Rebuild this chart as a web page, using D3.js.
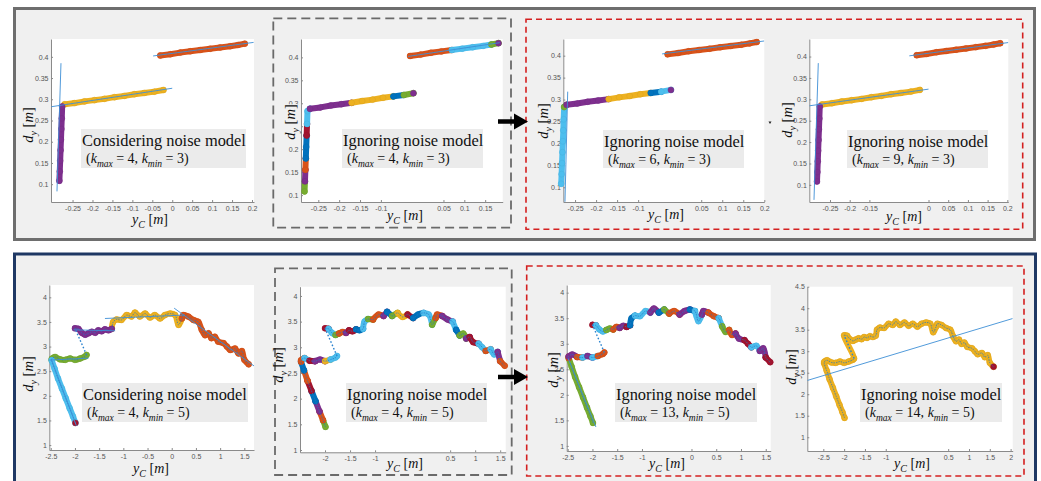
<!DOCTYPE html>
<html>
<head>
<meta charset="utf-8">
<script src="https://cdn.jsdelivr.net/npm/d3@7"></script>
<style>
  body { margin: 0; background: #fff; }
  svg { display: block; font-family: 'Liberation Sans', Arial, sans-serif; }
</style>
</head>
<body>
<svg id="chart" width="1041" height="481"></svg>
<script>
// ---- data ----
// top experiment: [y_c, d_y] along the track
const topTrack = [
  [-0.283, 0.108], [-0.282, 0.13], [-0.281, 0.155], [-0.280, 0.18],
  [-0.279, 0.205], [-0.278, 0.23], [-0.277, 0.255], [-0.276, 0.283],
  [-0.27, 0.288], [-0.245, 0.291], [-0.22, 0.295], [-0.195, 0.298],
  [-0.17, 0.301], [-0.145, 0.305], [-0.12, 0.308], [-0.095, 0.312],
  [-0.07, 0.315], [-0.045, 0.318], [-0.022, 0.322],
  [-0.03, 0.403], [-0.005, 0.406], [0.02, 0.41], [0.045, 0.413],
  [0.07, 0.416], [0.095, 0.419], [0.12, 0.422], [0.145, 0.425],
  [0.165, 0.428], [0.182, 0.431]
];
const topRuns = [[0, 18], [19, 28]];

// bottom experiment
const bottomTrack = [
  [-1.99, 1.45], [-2.04, 1.58], [-2.11, 1.75], [-2.19, 1.95], [-2.27, 2.15], [-2.35, 2.35], [-2.42, 2.55], [-2.48, 2.72],
  [-2.48, 2.75], [-2.41, 2.79], [-2.31, 2.74], [-2.2, 2.73], [-2.1, 2.76], [-2.0, 2.73], [-1.89, 2.76], [-1.79, 2.8], [-1.76, 2.83],
  [-2.0, 3.37], [-1.93, 3.36], [-1.86, 3.28], [-1.79, 3.24], [-1.72, 3.27], [-1.65, 3.3], [-1.58, 3.28], [-1.52, 3.33],
  [-1.45, 3.31], [-1.38, 3.35], [-1.31, 3.33], [-1.24, 3.36],
  [-1.21, 3.5], [-1.14, 3.55], [-1.04, 3.54], [-0.93, 3.64], [-0.83, 3.61], [-0.76, 3.69], [-0.66, 3.61], [-0.55, 3.67],
  [-0.45, 3.59], [-0.35, 3.64], [-0.24, 3.57], [-0.14, 3.64], [-0.03, 3.67], [0.07, 3.64], [0.14, 3.44], [0.21, 3.57],
  [0.24, 3.64], [0.34, 3.61], [0.45, 3.54], [0.55, 3.5], [0.62, 3.34], [0.69, 3.23], [0.76, 3.27], [0.82, 3.17],
  [0.89, 3.2], [0.96, 3.1], [1.07, 3.07], [1.14, 3.0], [1.21, 2.93], [1.31, 2.96], [1.38, 2.86], [1.45, 2.91],
  [1.5, 2.73], [1.59, 2.64]
];
const bottomRuns = [[0, 16], [17, 62]];
const bottomJump = [16, 17];

// colour segments [from, to, colour] per panel, in drawing order
const segTop1 = [[8, 18, 'yellow'], [19, 28, 'orange'], [0, 7, 'purple']];
const segTop2 = [[0, 1, 'green'], [1, 2, 'purple'], [2, 3, 'orange'], [3, 5, 'blue'], [5, 6, 'darkred'], [6, 8, 'cyan'],
  [8, 12, 'purple'], [12, 16, 'yellow'], [16, 17, 'blue'], [17, 18, 'green'], [18, 18, 'purple'],
  [19, 23, 'orange'], [23, 27, 'cyan'], [27, 28, 'green'], [28, 28, 'purple']];
const segTop3 = [[0, 7, 'cyan'], [7, 8, 'green'], [8, 12, 'purple'], [12, 16, 'yellow'], [16, 17, 'blue'],
  [17, 18, 'cyan'], [18, 18, 'purple'], [19, 28, 'orange']];
const segTop4 = [[8, 18, 'yellow'], [19, 28, 'orange'], [0, 7, 'purple']];

const segBot1 = [[28, 44, 'yellow'], [44, 62, 'orange'], [17, 28, 'purple'], [7, 16, 'green'], [0, 7, 'cyan'], [0, 0, 'darkred']];
const segBot2 = [[0, 1, 'green'], [1, 2, 'orange'], [2, 3, 'purple'], [3, 4, 'blue'], [4, 5, 'darkred'], [5, 6, 'orange'],
  [6, 7, 'blue'], [7, 9, 'orange'], [9, 10, 'cyan'], [10, 11, 'darkred'], [11, 13, 'purple'], [13, 14, 'yellow'], [14, 16, 'cyan'],
  [17, 18, 'darkred'], [18, 20, 'cyan'], [20, 21, 'green'], [21, 23, 'orange'], [23, 24, 'purple'], [24, 26, 'darkred'],
  [26, 28, 'blue'], [28, 30, 'cyan'], [30, 31, 'green'], [31, 33, 'orange'], [33, 34, 'purple'], [34, 35, 'blue'],
  [35, 36, 'green'], [36, 38, 'yellow'], [38, 39, 'darkred'], [39, 41, 'blue'], [41, 43, 'cyan'], [43, 44, 'green'],
  [44, 46, 'orange'], [46, 48, 'purple'], [48, 49, 'cyan'], [49, 50, 'blue'], [50, 52, 'green'], [52, 53, 'purple'],
  [53, 55, 'darkred'], [55, 57, 'cyan'], [57, 58, 'orange'], [58, 60, 'cyan'], [60, 61, 'purple'], [61, 62, 'orange']];
const segBot3 = [[0, 7, 'green'], [7, 8, 'orange'], [8, 10, 'purple'], [10, 11, 'orange'], [11, 12, 'cyan'], [12, 13, 'purple'],
  [13, 14, 'cyan'], [14, 16, 'orange'], [17, 18, 'darkred'], [18, 21, 'cyan'], [21, 23, 'green'], [23, 25, 'orange'],
  [25, 27, 'purple'], [27, 28, 'darkred'], [28, 30, 'blue'], [30, 33, 'cyan'], [33, 35, 'purple'], [35, 36, 'blue'],
  [36, 37, 'green'], [37, 39, 'orange'], [39, 41, 'purple'], [41, 42, 'blue'], [42, 44, 'cyan'], [44, 46, 'purple'],
  [46, 48, 'orange'], [48, 49, 'cyan'], [49, 51, 'green'], [51, 53, 'orange'], [53, 55, 'purple'], [55, 57, 'darkred'],
  [57, 59, 'cyan'], [59, 61, 'purple'], [61, 62, 'darkred']];
const segBot4 = [[0, 62, 'yellow'], [62, 62, 'darkred']];

// fitted lines [x1, y1, x2, y2]
const fitTop1 = [[-0.289, 0.083, -0.279, 0.385], [-0.303, 0.2825, 0.0, 0.326], [-0.048, 0.402, 0.204, 0.434]];
const fitTop2 = [[-0.035, 0.402, 0.185, 0.432]];
const fitTop3 = [[-0.274, 0.067, -0.2675, 0.318], [-0.043, 0.404, 0.2, 0.4335]];
const fitTop4 = [[-0.2906, 0.065, -0.2797, 0.3846], [-0.3025, 0.2848, 0.0, 0.3238], [-0.0487, 0.4016, 0.2025, 0.4327]];
const fitBot1 = [[-2.49, 2.74, -1.97, 1.39], [-2.53, 2.725, -1.72, 2.765], [-2.03, 3.34, -1.17, 3.32],
  [-1.38, 3.57, 0.26, 3.64], [0.05, 3.78, 1.71, 2.6]];
const fitBot2 = [];
const fitBot3 = [[-2.49, 2.71, -1.93, 1.37]];
const fitBot4 = [[-2.885, 2.32, 2.05, 3.76]];

// tick labels (the ones hidden behind the axis label in the figure are left out)
const topXTicks = [-0.25, -0.2, -0.15, -0.1, -0.05, 0, 0.05, 0.1, 0.15, 0.2];
const topXTicks2 = [-0.25, -0.2, -0.15, -0.1, 0.05, 0.1, 0.15];
const topXTicks3 = [-0.25, -0.2, -0.15, -0.1, 0.05, 0.1, 0.15, 0.2];
const topXTicks4 = [-0.25, -0.2, -0.15, 0, 0.05, 0.1, 0.15, 0.2];
const topYTicks = [0.1, 0.15, 0.2, 0.25, 0.3, 0.35, 0.4];
const botXTicks = [-2.5, -2, -1.5, -1, -0.5, 0, 0.5, 1, 1.5];
const botXTicks2 = [-2, -1.5, -1, 0.5, 1, 1.5];
const botXTicks3 = [-2.5, -2, -1.5, -1, 0, 0.5, 1, 1.5];
const botXTicks4 = [-2.5, -2, -1.5, -1, 0.5, 1, 1.5, 2];
const botYTicks = [1, 1.5, 2, 2.5, 3, 3.5, 4];
const botYTicks4 = [1, 1.5, 2, 2.5, 3, 3.5, 4, 4.5];

const notes = ['Considering noise model', 'Ignoring noise model', 'Ignoring noise model', 'Ignoring noise model',
  'Considering noise model', 'Ignoring noise model', 'Ignoring noise model', 'Ignoring noise model'];
const kMax = [4, 4, 6, 9, 4, 4, 13, 14];
const kMin = [3, 3, 3, 3, 5, 5, 5, 5];

const palette = {
  blue: '#0072BD', orange: '#D95319', yellow: '#EDB120', purple: '#7E2F8E',
  green: '#77AC30', cyan: '#4DBEEE', darkred: '#A2142F'
};

// ---- layout ----
const panels = [
  { track: topTrack, runs: topRuns, segs: segTop1, fits: fitTop1, xt: topXTicks, yt: topYTicks,
    plot: [51, 39, 254, 202], xdom: [-0.304, 0.205], ydom: [0.058, 0.442],
    box: [81, 129, 246, 168], ylab: [28, 125], xlab: [150, 224] },
  { track: topTrack, runs: topRuns, segs: segTop2, fits: fitTop2, xt: topXTicks2, yt: topYTicks,
    plot: [301, 39, 502.7, 202], xdom: [-0.2915, 0.192], ydom: [0.085, 0.44],
    box: [342, 129, 483, 168], ylab: [290, 122], xlab: [405, 220] },
  { track: topTrack, runs: topRuns, segs: segTop3, fits: fitTop3, xt: topXTicks3, yt: topYTicks,
    plot: [563.3, 39, 764.3, 202], xdom: [-0.278, 0.2], ydom: [0.0665, 0.438],
    box: [603, 130, 744, 168], ylab: [543, 121], xlab: [666, 219] },
  { track: topTrack, runs: topRuns, segs: segTop4, fits: fitTop4, xt: topXTicks4, yt: topYTicks,
    plot: [809.3, 39, 1008.3, 202], xdom: [-0.3025, 0.2025], ydom: [0.06, 0.441],
    box: [847, 130, 988, 168], ylab: [787, 120], xlab: [904, 221] },
  { track: bottomTrack, runs: bottomRuns, segs: segBot1, fits: fitBot1, xt: botXTicks, yt: botYTicks,
    plot: [49.3, 285, 254, 450], xdom: [-2.53, 1.7], ydom: [0.9, 4.25],
    box: [82, 383, 248, 422], ylab: [28, 374], xlab: [151, 473], curved: true },
  { track: bottomTrack, runs: bottomRuns, segs: segBot2, fits: fitBot2, xt: botXTicks2, yt: botYTicks,
    plot: [300, 286.7, 505.7, 452.3], xdom: [-2.5, 1.61], ydom: [0.955, 4.18],
    box: [346, 383, 487, 422], ylab: [278, 365], xlab: [405, 468], curved: true },
  { track: bottomTrack, runs: bottomRuns, segs: segBot3, fits: fitBot3, xt: botXTicks3, yt: botYTicks,
    plot: [566.7, 285, 770.7, 451], xdom: [-2.52, 1.6], ydom: [0.9, 4.15],
    box: [615, 383, 757, 422], ylab: [553, 370], xlab: [667, 468], curved: true },
  { track: bottomTrack, runs: bottomRuns, segs: segBot4, fits: fitBot4, xt: botXTicks4, yt: botYTicks4,
    plot: [807.3, 286.7, 1012.7, 451], xdom: [-2.885, 2.05], ydom: [0.68, 4.5],
    box: [860, 383, 1002, 422], ylab: [791, 367], xlab: [912, 468], curved: true }
];

const svg = d3.select('#chart');
const serif = '"Liberation Serif", "Times New Roman", serif';
const panelBg = '#f0f0f0';

// outer frames
svg.append('rect').attr('x', 14.5).attr('y', 8.5).attr('width', 1020).attr('height', 231)
  .attr('fill', panelBg).attr('stroke', '#6e6e6e').attr('stroke-width', 3);
svg.append('rect').attr('x', 14.5).attr('y', 254).attr('width', 1021).attr('height', 245)
  .attr('fill', panelBg).attr('stroke', '#1f3864').attr('stroke-width', 3);

// dashed group frames
const dashBoxes = [
  [273.3, 18.3, 511, 227.7, '#6a6a6a', '9,5', 1.8],
  [526, 19.3, 1022.7, 229.3, '#d42020', '6,4', 1.6],
  [275, 268.3, 511.7, 475, '#6a6a6a', '9,5', 1.8],
  [526.7, 266, 1024, 476, '#d42020', '6,4', 1.6]
];
dashBoxes.forEach(([x0, y0, x1, y1, c, dash, w]) => {
  svg.append('rect').attr('x', x0).attr('y', y0).attr('width', x1 - x0).attr('height', y1 - y0)
    .attr('fill', 'none').attr('stroke', c).attr('stroke-width', w).attr('stroke-dasharray', dash);
});

const fmt = (d) => String(Math.round(d * 100) / 100);

// text built from parts [text, italic, subscript]
const richText = (g, parts, size, subSize) => {
  const t = g.append('text').style('font-family', serif).style('font-size', size + 'px').attr('fill', '#111');
  let shifted = false;
  parts.forEach(([s, italic, sub]) => {
    const ts = t.append('tspan').text(s);
    if (italic) ts.style('font-style', 'italic');
    if (sub) ts.style('font-size', subSize + 'px');
    if (sub && !shifted) { ts.attr('dy', size * 0.28); shifted = true; }
    else if (!sub && shifted) { ts.attr('dy', -size * 0.28); shifted = false; }
  });
  return t;
};

panels.forEach((p, i) => {
  const [L, T, R, B] = p.plot;
  const x = d3.scaleLinear().domain(p.xdom).range([L, R]);
  const y = d3.scaleLinear().domain(p.ydom).range([B, T]);
  const g = svg.append('g');

  g.append('rect').attr('x', L).attr('y', T).attr('width', R - L).attr('height', B - T).attr('fill', '#fff');

  const clipId = 'clip' + i;
  g.append('clipPath').attr('id', clipId).append('rect')
    .attr('x', L).attr('y', T).attr('width', R - L).attr('height', B - T);

  // axes
  const inX = p.xt.filter((v) => v >= p.xdom[0] - 1e-9 && v <= p.xdom[1] + 1e-9);
  const inY = p.yt.filter((v) => v >= p.ydom[0] && v <= p.ydom[1]);
  const xAxis = g.append('g').attr('transform', `translate(0,${B})`)
    .call(d3.axisBottom(x).tickValues(inX).tickFormat(fmt).tickSizeInner(-2).tickSizeOuter(0).tickPadding(4));
  const yAxis = g.append('g').attr('transform', `translate(${L},0)`)
    .call(d3.axisLeft(y).tickValues(inY).tickFormat(fmt).tickSizeInner(-2).tickSizeOuter(0).tickPadding(2.5));
  [xAxis, yAxis].forEach((a) => {
    a.select('.domain').attr('stroke', '#8a8a8a');
    a.selectAll('.tick line').attr('stroke', '#8a8a8a');
    a.selectAll('.tick text').attr('fill', '#555').style('font-size', '7px')
      .style('font-family', "'Liberation Sans', Arial, sans-serif");
  });

  const line = d3.line().x((d) => x(d[0])).y((d) => y(d[1]))
    .curve(p.curved ? d3.curveCatmullRom : d3.curveLinear);

  // coloured marker bands
  p.segs.forEach(([a, b, c]) => {
    const col = palette[c];
    const pts = p.track.slice(a, b + 1);
    if (pts.length > 1) {
      g.append('path').attr('d', line(pts)).attr('fill', 'none').attr('stroke', col)
        .attr('stroke-width', 6).attr('stroke-linecap', 'round').attr('stroke-linejoin', 'round');
    }
    g.selectAll(null).data(pts).enter().append('circle')
      .attr('cx', (d) => x(d[0])).attr('cy', (d) => y(d[1])).attr('r', 3)
      .attr('fill', col).attr('stroke', d3.color(col).darker(0.3)).attr('stroke-width', 0.5)
      .attr('stroke-opacity', 0.7);
  });

  // thin trajectory line and dotted jump for the bottom experiment
  if (p.curved) {
    p.runs.forEach(([a, b]) => {
      g.append('path').attr('d', line(p.track.slice(a, b + 1))).attr('fill', 'none')
        .attr('stroke', '#1f77c4').attr('stroke-width', 0.7).attr('stroke-dasharray', '1.5,1');
    });
    const [j0, j1] = bottomJump;
    g.append('line')
      .attr('x1', x(p.track[j0][0])).attr('y1', y(p.track[j0][1]))
      .attr('x2', x(p.track[j1][0])).attr('y2', y(p.track[j1][1]))
      .attr('stroke', '#2b83cf').attr('stroke-width', 1.4).attr('stroke-dasharray', '1.6,2');
  }

  // fitted lines
  g.append('g').attr('clip-path', `url(#${clipId})`).selectAll('line').data(p.fits).enter().append('line')
    .attr('x1', (d) => x(d[0])).attr('y1', (d) => y(d[1]))
    .attr('x2', (d) => x(d[2])).attr('y2', (d) => y(d[3]))
    .attr('stroke', '#3d8fd6').attr('stroke-width', 0.9);

  // note box
  const [bx0, by0, bx1, by1] = p.box;
  g.append('rect').attr('x', bx0).attr('y', by0).attr('width', bx1 - bx0).attr('height', by1 - by0).attr('fill', '#ebebeb');
  g.append('text').attr('x', bx0 + 1).attr('y', by0 + 16.5)
    .style('font-family', serif).style('font-size', '16.4px').attr('fill', '#111').text(notes[i]);
  const k = richText(g, [['(', false, false], ['k', true, false], ['max', true, true], [' = ' + kMax[i] + ', ', false, false],
    ['k', true, false], ['min', true, true], [' = ' + kMin[i] + ')', false, false]], 14, 9.5);
  k.attr('x', bx0 + 5).attr('y', by0 + 34);

  // axis labels
  const yl = richText(g, [['d', true, false], ['y', true, true], [' [', false, false], ['m', true, false], [']', false, false]], 14.5, 10);
  yl.attr('text-anchor', 'middle').attr('transform', `translate(${p.ylab[0] + 5},${p.ylab[1]}) rotate(-90)`);
  const xl = richText(g, [['y', true, false], ['C', true, true], [' [', false, false], ['m', true, false], [']', false, false]], 14, 10);
  xl.attr('text-anchor', 'middle').attr('x', p.xlab[0]).attr('y', p.xlab[1]);
  if (i === 1) {
    // this label sits over the tick labels in the figure
    const bb = yl.node().getBBox();
    g.insert('rect', () => yl.node())
      .attr('x', p.ylab[0] + 5 + bb.y + 2).attr('y', p.ylab[1] - bb.x - bb.width)
      .attr('width', bb.height - 2).attr('height', bb.width).attr('fill', panelBg);
  }
});

// arrows between groups
[121.5, 377].forEach((ay) => {
  svg.append('line').attr('x1', 498).attr('y1', ay).attr('x2', 516).attr('y2', ay)
    .attr('stroke', '#000').attr('stroke-width', 4.5);
  svg.append('path').attr('d', `M514,${ay - 8}L528,${ay}L514,${ay + 8}Z`).attr('fill', '#000');
});
svg.append('path').attr('d', 'M768.5,121.5L771.5,121.5L770,124Z').attr('fill', '#222');
</script>
</body>
</html>
